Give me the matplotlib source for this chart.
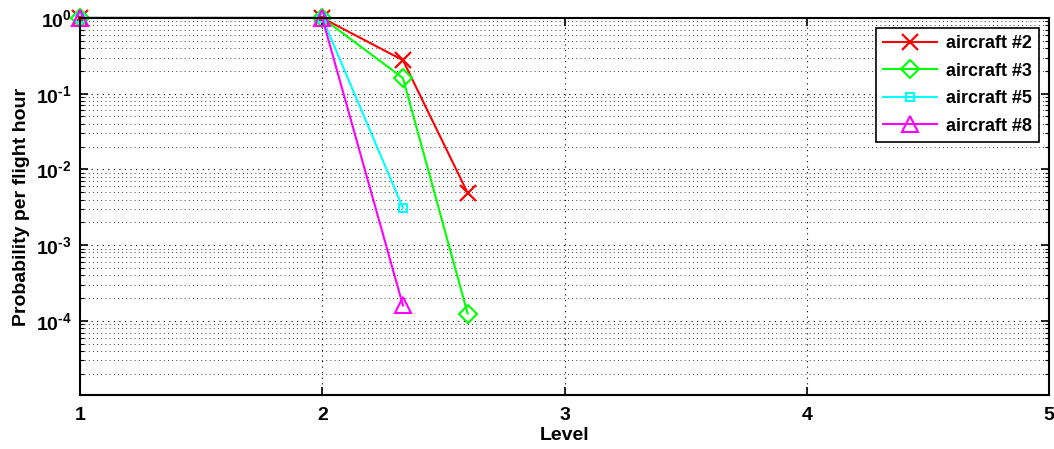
import numpy as np
import matplotlib
matplotlib.use('Agg')
import matplotlib.pyplot as plt
from matplotlib.ticker import LogLocator, NullFormatter, FixedLocator, FuncFormatter

# Data
levels_2 = [1, 2, 2.333, 2.6]
prob_2 = [1.0, 1.0, 0.277, 4.9e-3]

levels_3 = [1, 2, 2.333, 2.6]
prob_3 = [1.0, 1.0, 0.161, 1.25e-4]

levels_5 = [1, 2, 2.333]
prob_5 = [1.0, 1.0, 3.1e-3]

levels_8 = [1, 2, 2.333]
prob_8 = [1.0, 1.0, 1.6e-4]

labels = ['aircraft #2', 'aircraft #3', 'aircraft #5', 'aircraft #8']

plt.rcParams['font.family'] = ['Liberation Sans', 'DejaVu Sans']
plt.rcParams['font.weight'] = 'bold'
plt.rcParams['mathtext.fontset'] = 'custom'
plt.rcParams['mathtext.rm'] = 'Liberation Sans:bold'
plt.rcParams['mathtext.bf'] = 'Liberation Sans:bold'
plt.rcParams['mathtext.default'] = 'bf'

fig = plt.figure(figsize=(10.54, 4.49), dpi=100)
ax = fig.add_axes([0.0759, 0.1203, 0.9194, 0.8397])

ax.plot(levels_2, prob_2, color='#ff0000', lw=1.5, marker='x', ms=11, mew=1.6,
        label=labels[0], clip_on=False)
ax.plot(levels_3, prob_3, color='#00ff00', lw=1.5, marker='D', ms=9, mew=1.5,
        mfc='none', label=labels[1], clip_on=False)
ax.plot(levels_5, prob_5, color='#00ffff', lw=1.5, marker='s', ms=6, mew=1.5,
        mfc='none', label=labels[2], clip_on=False)
ax.plot(levels_8, prob_8, color='#ff00ff', lw=1.5, marker='^', ms=11, mew=1.5,
        mfc='none', label=labels[3], clip_on=False)

ax.set_yscale('log')
ax.set_xlim(1, 5)
ax.set_ylim(1.05e-5, 1)
ax.set_xticks([1, 2, 3, 4, 5])
ax.yaxis.set_major_locator(FixedLocator([1e-4, 1e-3, 1e-2, 1e-1, 1e0]))
ax.yaxis.set_major_formatter(FuncFormatter(
    lambda v, p: r'$\mathbf{10^{%s}}$' % ('\\text{-}%d' % -round(np.log10(v)) if v < 1 else '0')))
ax.yaxis.set_minor_locator(LogLocator(base=10, subs=np.arange(2, 10), numticks=20))
ax.yaxis.set_minor_formatter(NullFormatter())

ax.grid(True, which='major', axis='both', color='black', linestyle=(0, (1, 4)), lw=0.8)
ax.grid(True, which='minor', axis='y', color='black', linestyle=(0, (1, 4)), lw=0.6)

ax.tick_params(axis='x', which='major', direction='in', length=6, width=1.2,
               labelsize=14, top=True, pad=9)
ax.tick_params(axis='y', which='major', direction='in', length=6, width=1.2,
               labelsize=14, right=True, pad=6)
ax.tick_params(axis='y', which='minor', direction='in', length=3, width=0.8, right=True)
for lbl in ax.get_xticklabels() + ax.get_yticklabels():
    lbl.set_fontweight('bold')

for sp in ax.spines.values():
    sp.set_linewidth(1.5)

ax.set_xlabel('Level', fontsize=14, fontweight='bold', labelpad=2)
ax.set_ylabel('Probability per flight hour', fontsize=14, fontweight='bold', labelpad=4)

leg = ax.legend(loc='upper right', fontsize=13, frameon=True, fancybox=False,
                edgecolor='black', framealpha=1, handlelength=3.0,
                borderpad=0.4, labelspacing=0.58, borderaxespad=0.55,
                handletextpad=0.5)
leg.get_frame().set_linewidth(1.2)

fig.savefig('out.png', dpi=100)
